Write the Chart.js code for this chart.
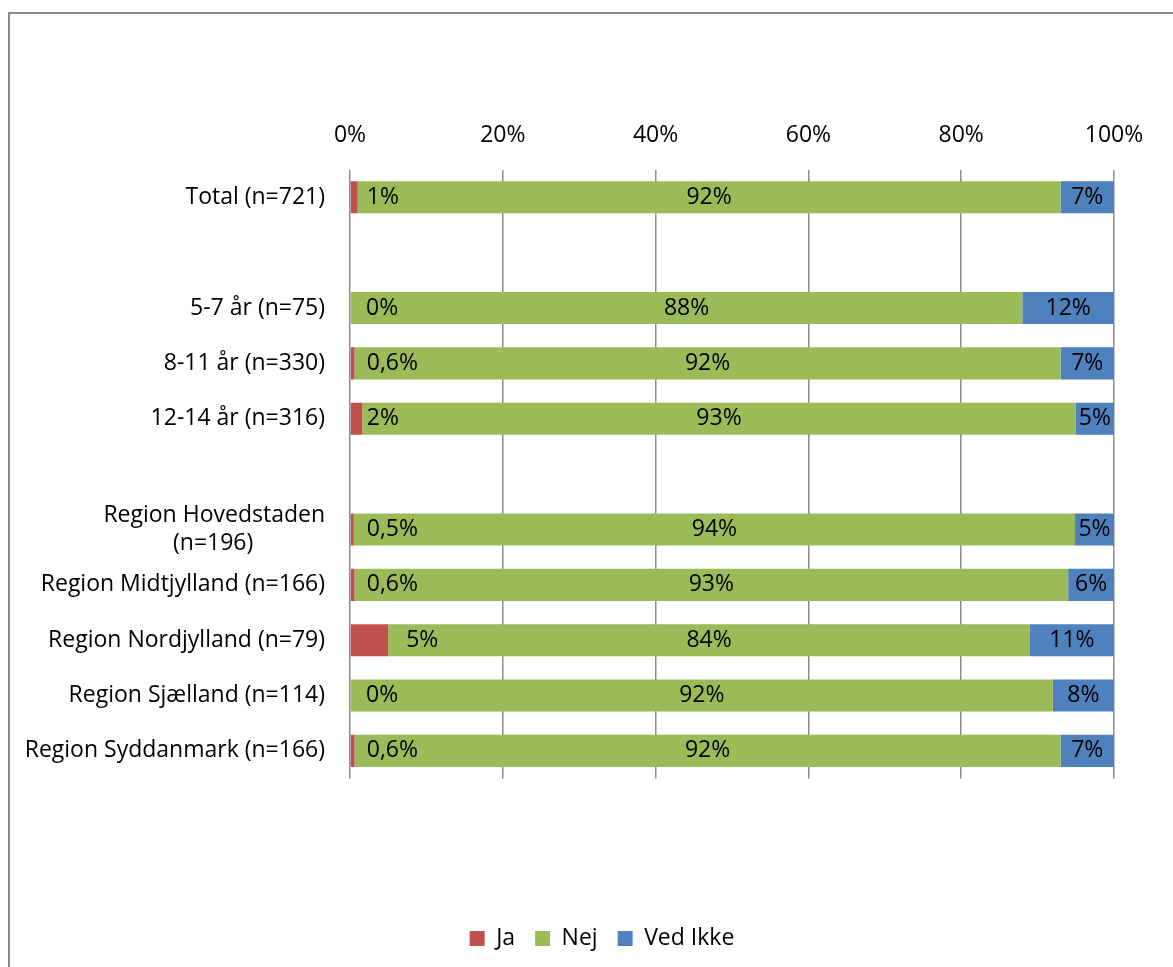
<!DOCTYPE html>
<html>
<head>
<meta charset="utf-8">
<script src="https://cdn.jsdelivr.net/npm/chart.js@4"></script>
<style>
  html, body { margin: 0; padding: 0; background: #fff; overflow: hidden; }
  .frame {
    position: absolute; left: 8px; top: 12px; width: 1200px; height: 1000px;
    border-left: 2px solid #8a8a8a; border-top: 2px solid #8a8a8a;
  }
  .wrap { position: absolute; left: 0; top: 0; width: 1173px; height: 967px; }
</style>
</head>
<body>
<div class="frame"></div>
<div class="wrap"><canvas id="chart"></canvas></div>
<script>
const categories = [
  "Total (n=721)", "",
  "5-7 år (n=75)", "8-11 år (n=330)", "12-14 år (n=316)", "",
  ["Region Hovedstaden", "(n=196)"], "Region Midtjylland (n=166)",
  "Region Nordjylland (n=79)", "Region Sjælland (n=114)", "Region Syddanmark (n=166)"
]
const jaValues = [1, null, 0, 0.6, 1.6, null, 0.5, 0.6, 5, 0, 0.6]
const nejValues = [92, null, 88, 92.4, 93.4, null, 94.4, 93.4, 84, 92, 92.4]
const vedIkkeValues = [7, null, 12, 7, 5, null, 5.1, 6, 11, 8, 7]
const xTicks = [0, 20, 40, 60, 80, 100]

const FONT = "'Open Sans'"
const FONT_SIZE = 23

// center the short second line under the long one (labels are right aligned)
const measure = document.createElement("canvas").getContext("2d")
measure.font = FONT_SIZE + "px " + FONT
function centerLines(label) {
  if (!Array.isArray(label)) return label
  const widest = Math.max(...label.map((l) => measure.measureText(l).width))
  const space = measure.measureText("\u00a0").width
  return label.map((l) => {
    const pad = Math.round((widest - measure.measureText(l).width) / 2 / space)
    return l + "\u00a0".repeat(pad)
  })
}

function fmt(v) {
  if (v > 0 && v < 1) return v.toFixed(1).replace(".", ",") + "%"
  return Math.round(v) + "%"
}

// value labels drawn on the bars
const barLabels = {
  id: "barLabels",
  afterLayout(chart) {
    // legend is centred under the whole frame, not only the plot
    chart.legend.left += 90
  },
  afterDatasetsDraw(chart) {
    const ctx = chart.ctx
    ctx.save()
    ctx.font = FONT_SIZE + "px " + FONT
    ctx.fillStyle = "#000"
    ctx.textBaseline = "middle"
    chart.data.datasets.forEach((ds, di) => {
      const meta = chart.getDatasetMeta(di)
      meta.data.forEach((bar, i) => {
        const v = ds.data[i]
        if (v === null || v === undefined) return
        const left = Math.min(bar.x, bar.base)
        const right = Math.max(bar.x, bar.base)
        if (di === 0) {
          ctx.textAlign = "left"
          const x = right > left + 16 ? right + 18 : left + 16
          ctx.fillText(fmt(v), x, bar.y)
        } else {
          ctx.textAlign = "center"
          ctx.fillText(fmt(v), (left + right) / 2, bar.y)
        }
      })
    })
    ctx.restore()
  },
}

const ctx = document.getElementById("chart")
new Chart(ctx, {
  type: "bar",
  data: {
    labels: categories.map(centerLines),
    datasets: [
      { label: "Ja", data: jaValues, backgroundColor: "#C0504D" },
      { label: "Nej", data: nejValues, backgroundColor: "#9BBB59" },
      { label: "Ved Ikke", data: vedIkkeValues, backgroundColor: "#4F81BD" },
    ],
  },
  options: {
    indexAxis: "y",
    responsive: true,
    maintainAspectRatio: false,
    animation: false,
    layout: { padding: { top: 102, right: 59, bottom: 7, left: 0 } },
    datasets: { bar: { barPercentage: 0.58, categoryPercentage: 1, borderWidth: 0 } },
    scales: {
      x: {
        stacked: true,
        position: "top",
        min: 0,
        max: 100,
        afterBuildTicks: (scale) => {
          scale.ticks = xTicks.map((v) => ({ value: v }))
        },
        ticks: {
          callback: (v) => v + "%",
          color: "#000",
          font: { family: FONT, size: FONT_SIZE },
          padding: 20,
          maxRotation: 0,
        },
        grid: { color: "#8c8c8c", lineWidth: 1.5, drawTicks: false },
        border: { display: false },
      },
      y: {
        stacked: true,
        afterFit: (scale) => {
          scale.width = 350
        },
        ticks: {
          color: "#000",
          font: { family: FONT, size: FONT_SIZE },
          padding: 25,
          autoSkip: false,
        },
        grid: { display: false, drawTicks: false },
        border: { display: false },
      },
    },
    plugins: {
      tooltip: { enabled: false },
      legend: {
        position: "bottom",
        title: { display: true, text: "", padding: { top: 114, bottom: 0 } },
        labels: {
          boxWidth: 15,
          boxHeight: 15,
          padding: 20,
          color: "#000",
          font: { family: FONT, size: FONT_SIZE },
        },
      },
    },
  },
  plugins: [barLabels],
})
</script>
</body>
</html>
